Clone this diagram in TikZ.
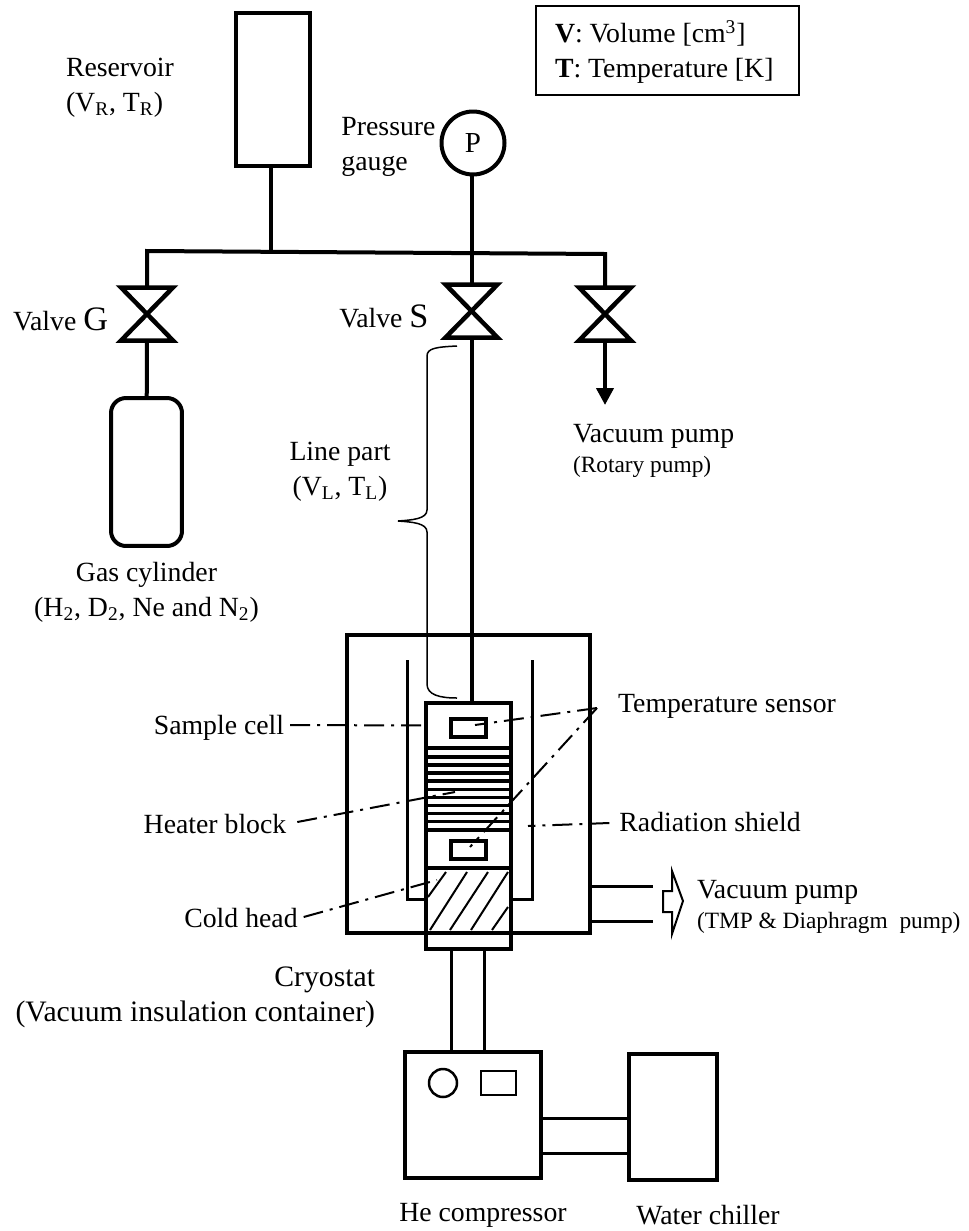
\documentclass[tikz,border=0pt]{standalone}
\usepackage{fontspec}
\setmainfont{Liberation Serif}
\usetikzlibrary{positioning}
\usetikzlibrary{arrows.meta}
\newcommand{\subtxt}[1]{{\fontsize{13.3}{20}\selectfont #1}}
\newcommand{\bigtxt}[1]{{\fontsize{19.5}{20}\selectfont #1}}
\tikzset{
  lbl/.style={font=\fontsize{15.8}{20}\selectfont, inner sep=0pt, outer sep=0pt},
  valvelbl/.style={font=\fontsize{15.8}{20}\selectfont, inner sep=0pt, outer sep=0pt},
  box/.style={draw, line width=.08cm, inner sep=0pt, outer sep=0pt},
  valve/.style={minimum width=1.04cm, minimum height=1.06cm, inner sep=0pt, outer sep=0pt},
  pipe/.style={line width=.08cm},
  thinpipe/.style={line width=.06cm},
  leader/.style={line width=.04cm, dash pattern=on .4cm off .14cm on .06cm off .14cm},
}
\begin{document}
\begin{tikzpicture}[x=.02cm,y=-.02cm]
\useasboundingbox (0,0) rectangle (968,1231);
% legend
\node[draw, line width=.04cm, minimum width=5.26cm, minimum height=1.78cm, inner sep=0pt] (legend) at (667.5,50.5) {};
\node (legendtxt) [lbl, align=left, anchor=west] at (555,52) {\textbf{V}: Volume [cm\textsuperscript{3}]\\\textbf{T}: Temperature [K]};
% gas side
\node (reservoir) [box, minimum width=1.48cm, minimum height=3.06cm] at (273,89.5) {};
\node (reservoirlbl) [lbl, align=left, anchor=west] at (66,88) {Reservoir\\(V\textsubscript{R}, T\textsubscript{R})};
\node (gauge) [box, circle, minimum size=1.26cm, font=\fontsize{16.5}{20}\selectfont] at (473,143) {P};
\node (gaugelbl) [lbl, align=left, left=.12cm of gauge, yshift=-.08cm] {Pressure\\gauge};
% main line
\coordinate (lineG) at (147,251);
\coordinate (lineR) at (271,252);
\coordinate (lineS) at (471.5,253);
\coordinate (lineV) at (605,254);
% valves
\node (valveG) [valve] at (147,314) {};
\node (valveS) [valve] at (471.5,311) {};
\node (valveV) [valve] at (605,314) {};
\foreach \v in {valveG,valveS,valveV}
  \draw[pipe, line width=.09cm] (\v.north west) -- (\v.south east) -- (\v.south west) -- (\v.north east) -- cycle;
\node (valveGlbl) [valvelbl, left=.26cm of valveG, yshift=-.1cm] {Valve \bigtxt{G}};
\node (valveSlbl) [valvelbl, left=.34cm of valveS, yshift=-.1cm] {Valve \bigtxt{S}};
% gas cylinder
\node (cylinder) [box, rounded corners=.3cm, minimum width=1.42cm, minimum height=2.96cm] at (146.5,472) {};
\node (cylinderlbl) [lbl, align=center, below=.32cm of cylinder] {Gas cylinder\\(H\textsubscript{2}, D\textsubscript{2}, Ne and N\textsubscript{2})};
% pipes
\coordinate (rotary) at (605,405);
\draw[pipe] (valveG) -- (lineG) -- (lineV) -- (valveV);
\draw[pipe] (reservoir.south -| lineR) -- (lineR);
\draw[pipe] (valveG) -- (cylinder);
\draw[pipe, -{Triangle[width=.34cm,length=.34cm]}] (valveV) -- (rotary);
\node (rotarylbl) [lbl, align=left, anchor=north west] at (573,424) {Vacuum pump\\[-3pt]\subtxt{(Rotary pump)}};
% cryostat
\node (cryostat) [box, minimum width=4.86cm, minimum height=5.96cm] at (468.5,784) {};
\draw[thinpipe] (407,660) -- (407,899) -- (426,899);
\draw[thinpipe] (532,660) -- (532,899) -- (511,899);
\node (samplecell) [box, fill=white, minimum width=1.7cm, minimum height=.9cm] at (468.5,725.5) {};
\node (heater) [box, minimum width=1.7cm, minimum height=1.64cm, below=0cm of samplecell] {};
\node (lowercell) [box, fill=white, minimum width=1.7cm, minimum height=.76cm, below=0cm of heater] {};
\node (coldhead) [box, fill=white, minimum width=1.7cm, minimum height=1.3cm, below=0cm of lowercell] {};
\node (base) [box, minimum width=1.7cm, minimum height=.32cm, below=0cm of coldhead] {};
\node (sensorA) [box, minimum width=.7cm, minimum height=.36cm] at (468.5,728) {};
\node (sensorB) [box, minimum width=.7cm, minimum height=.36cm] at (468.5,850) {};
% heater block
\foreach \y in {757,765,773,781,789.5,797.5,805.5,813.5,821.5}
  \draw[line width=.07cm] (heater.west |- 0,\y) -- (heater.east |- 0,\y);
% cold head hatch
\draw[line width=.04cm] (428,897) -- (446,872);
\draw[line width=.04cm] (430,930) -- (467,872);
\draw[line width=.04cm] (450,930) -- (488,872);
\draw[line width=.04cm] (471,930) -- (508,872);
\draw[line width=.04cm] (492,930) -- (508,907);
% line to the cell
\draw[pipe] (valveS) -- (samplecell.north -| valveS);
\draw[pipe] (gauge.south -| valveS) -- (valveS);
% brace
\coordinate (bracetop) at (457,346);
\coordinate (bracetip) at (398,521);
\coordinate (braceend) at (457,698);
\draw[line width=.03cm] (bracetop) .. controls (437,347) and (427,348) .. (427,356) -- (427,510)
  .. controls (427,519) and (412,520) .. (bracetip)
  .. controls (412,522) and (427,523) .. (427,532) -- (427,684)
  .. controls (427,695) and (440,698) .. (braceend);
\node (linelbl) [lbl, align=center] at (340,472) {Line part\\(V\textsubscript{L}, T\textsubscript{L})};
% labels
\node (samplelbl) [lbl] at (219,728) {Sample cell};
\node (heaterlbl) [lbl] at (215,824) {Heater block};
\node (coldlbl) [lbl] at (241,918) {Cold head};
\node (sensorlbl) [lbl] at (727,706) {Temperature sensor};
\node (shieldlbl) [lbl] at (710,822) {Radiation shield};
% leaders
\coordinate (fork) at (597,708);
\coordinate (sensorApt) at (475,725);
\coordinate (sensorBpt) at (470,847);
\coordinate (heaterpt) at (455,792);
\coordinate (shieldpt) at (528,826);
\coordinate (coldpt) at (437,880);
\draw[leader] (samplelbl.east)+(6,-3) -- (samplecell.west);
\draw[leader] (fork) -- (sensorApt);
\draw[leader] (fork) -- (sensorBpt);
\draw[leader] (heaterlbl.east)+(11,-2) -- (heaterpt);
\draw[leader] (shieldlbl.west)+(-10,1) -- (shieldpt);
\draw[leader] (coldlbl.east)+(6,-1) -- (coldpt);
% vacuum pump
\coordinate (vacA) at (653,886);
\coordinate (vacB) at (653,921);
\draw[thinpipe] (cryostat.east |- vacA) -- (vacA);
\draw[thinpipe] (cryostat.east |- vacB) -- (vacB);
\draw[line width=.04cm, line join=miter] (663,891) -- (672,891) -- (672,871) -- (683,901) -- (672,934) -- (672,912) -- (663,912) -- cycle;
\node (vaclbl) [lbl, align=left, anchor=west] at (697,906.5) {Vacuum pump\\[-3pt]\subtxt{(TMP \& Diaphragm\ \ pump)}};
\node (cryolbl) [lbl, font=\fontsize{16.9}{20}\selectfont, align=right, anchor=east] at (375,997) {Cryostat\\(Vacuum insulation container)};
% compressor and chiller
\node (compressor) [box, line width=.07cm, minimum width=2.72cm, minimum height=2.52cm] at (473,1115) {};
\node (chiller) [box, line width=.07cm, minimum width=1.76cm, minimum height=2.52cm] at (673,1117) {};
\node (dial) [box, line width=.05cm, circle, minimum size=.56cm] at (443,1083) {};
\node (panel) [box, line width=.05cm, minimum width=.7cm, minimum height=.48cm] at (498.5,1083) {};
\foreach \x in {451,484}
  \draw[thinpipe] (base.south -| \x,0) -- (compressor.north -| \x,0);
\foreach \y in {1118,1153}
  \draw[thinpipe] (compressor.east |- 0,\y) -- (chiller.west |- 0,\y);
\node (compressorlbl) [lbl, below=.5cm of compressor, xshift=.2cm] {He compressor};
\node (chillerlbl) [lbl, below=.5cm of chiller, xshift=.7cm] {Water chiller};
\end{tikzpicture}
\end{document}
